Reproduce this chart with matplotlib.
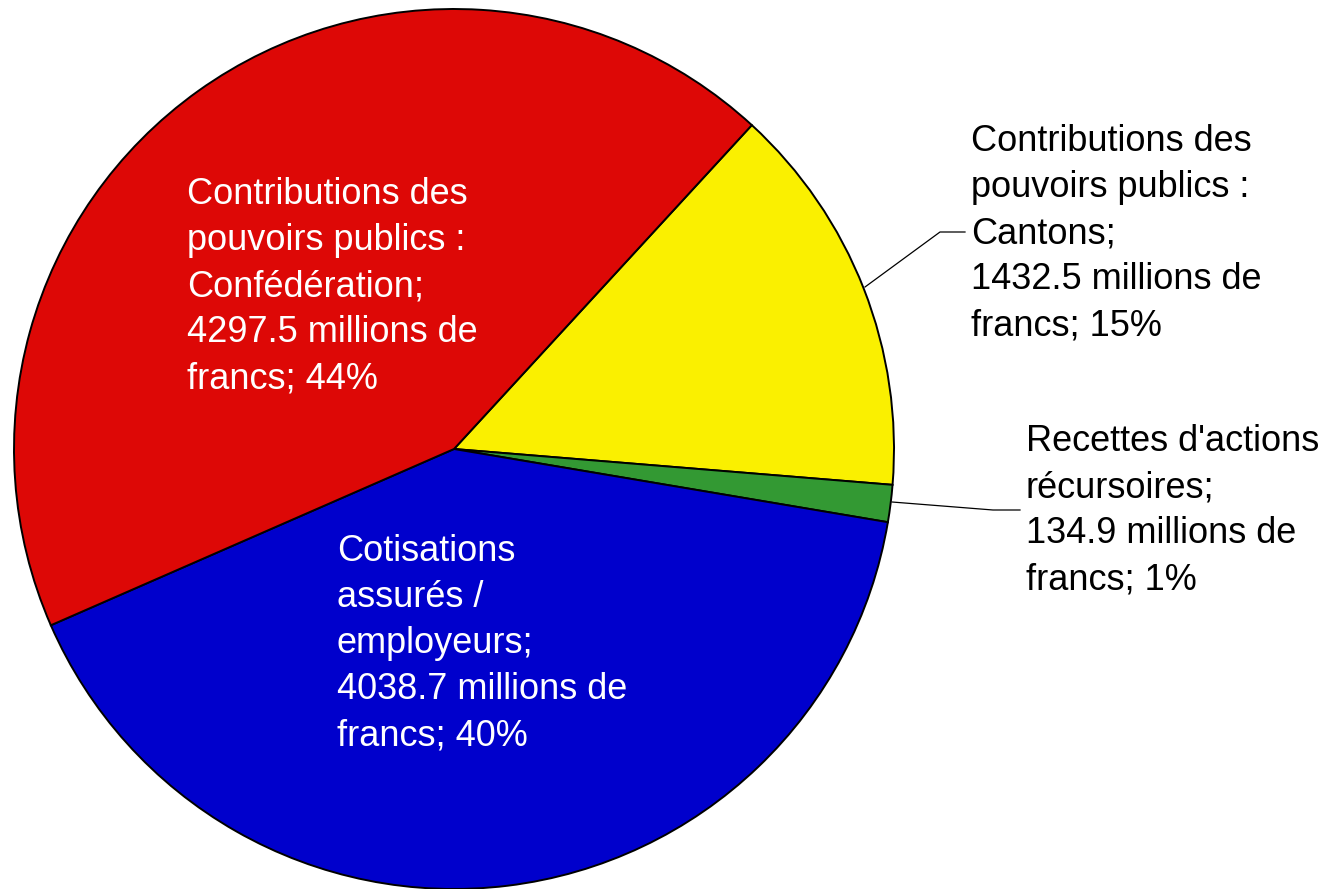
import matplotlib
matplotlib.use('Agg')
import matplotlib.pyplot as plt

plt.rcParams['font.family'] = ['Liberation Sans', 'DejaVu Sans']

# data
categories = ["Contributions des pouvoirs publics : Cantons",
              "Recettes d'actions récursoires",
              "Cotisations assurés / employeurs",
              "Contributions des pouvoirs publics : Confédération"]
values = [1432.5, 134.9, 4038.7, 4297.5]
percents = ["15%", "1%", "40%", "44%"]
colors = ['#FAF000', '#339933', '#0000CC', '#DD0806']

labels = [
    "Contributions des\npouvoirs publics :\nCantons;\n{} millions de\nfrancs; {}".format(values[0], percents[0]),
    "Recettes d'actions\nrécursoires;\n{} millions de\nfrancs; {}".format(values[1], percents[1]),
    "Cotisations\nassurés /\nemployeurs;\n{} millions de\nfrancs; {}".format(values[2], percents[2]),
    "Contributions des\npouvoirs publics :\nConfédération;\n{} millions de\nfrancs; {}".format(values[3], percents[3]),
]

W, H = 1323, 889
fig = plt.figure(figsize=(W / 100, H / 100), dpi=100)
ax = fig.add_axes([0, 0, 1, 1])

cx, cy, r = 454, H - 449, 440
ax.pie(values, colors=colors, startangle=47.4, counterclock=False,
       center=(cx, cy), radius=r,
       wedgeprops=dict(edgecolor='black', linewidth=1.4))

ax.set_xlim(0, W)
ax.set_ylim(0, H)
ax.set_aspect('equal')
ax.axis('off')

fs = 26
ls = 1.41
# label positions (left x, top line y) in pixels
text_pos = [(971, 124), (1026, 424), (337, 534), (187, 177)]
text_col = ['black', 'black', 'white', 'white']
for lab, (tx, ty), tc in zip(labels, text_pos, text_col):
    ax.text(tx, H - ty, lab, ha='left', va='top', fontsize=fs, color=tc,
            linespacing=ls)

# leader lines
ax.plot([865, 940, 965], [H - 287, H - 232, H - 232], color='black', lw=0.9)
ax.plot([892, 993, 1020], [H - 502, H - 510, H - 510], color='black', lw=0.9)

plt.savefig('out.png', dpi=100)
plt.close()
